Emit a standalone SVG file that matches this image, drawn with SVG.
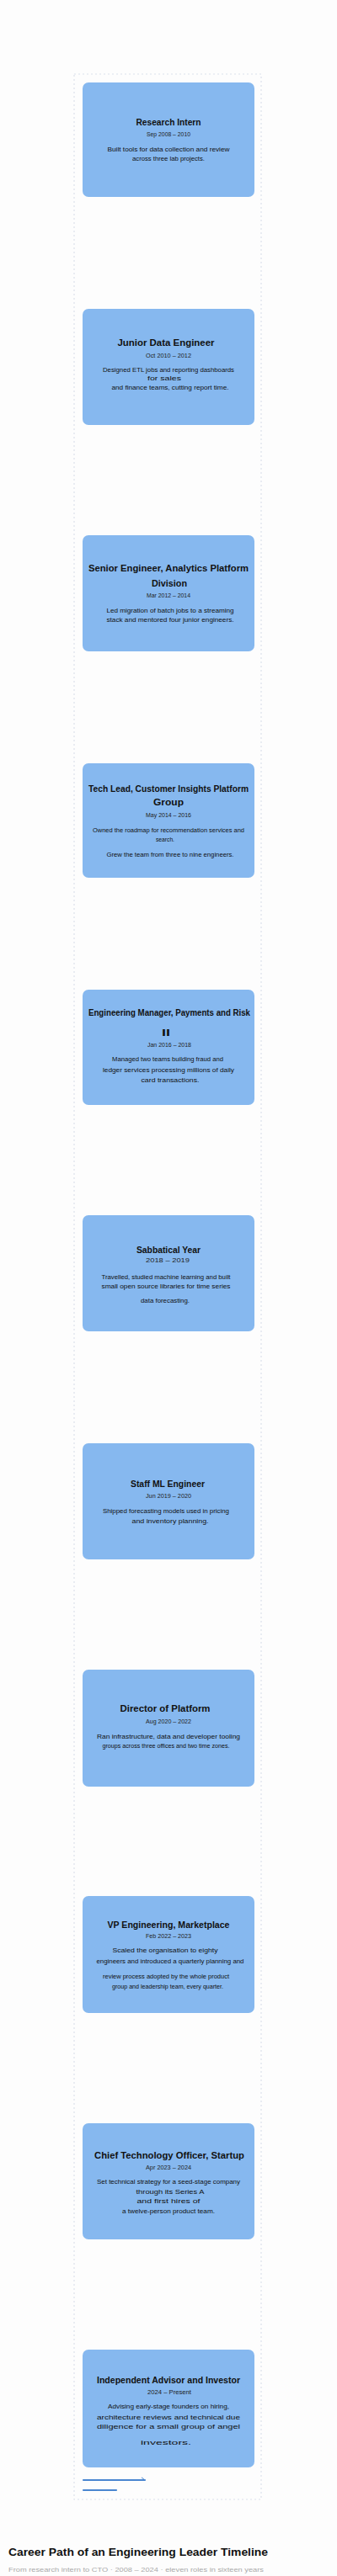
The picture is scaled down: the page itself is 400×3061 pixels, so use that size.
<svg xmlns="http://www.w3.org/2000/svg" width="400" height="3061" viewBox="0 0 400 3061">
<style>
.node{fill:#86b8ef}
.t{font-family:"Liberation Sans",Arial,sans-serif;font-weight:bold;font-size:10px;fill:#111;text-anchor:middle}
.d{font-family:"Liberation Sans",Arial,sans-serif;font-size:7px;fill:#222;text-anchor:middle}
.x{font-family:"Liberation Sans",Arial,sans-serif;font-size:7.5px;fill:#111;text-anchor:middle}
.frame{fill:none;stroke:#dce2ec;stroke-width:1.2;stroke-dasharray:2 3}
.leg{stroke:#4a86d0;stroke-width:2.2;fill:none;stroke-linecap:round}
</style>
<defs>
<marker id="half" viewBox="0 0 10 10" refX="9" refY="9" markerWidth="5" markerHeight="5" orient="auto" markerUnits="userSpaceOnUse">
<path d="M0,2 L9,9" stroke="#4a86d0" stroke-width="2" fill="none"/>
</marker>
</defs>
<rect width="400" height="3061" fill="#fdfdfd"/>
<rect class="frame" x="88" y="88" width="222" height="2882"/>

<g id="node1">
<rect class="node" x="98" y="98" width="204" height="136" rx="7"/>
<text class="t" x="200" y="148.5" textLength="77" lengthAdjust="spacingAndGlyphs">Research Intern</text>
<text class="d" x="200" y="161.5" textLength="52" lengthAdjust="spacingAndGlyphs">Sep 2008 – 2010</text>
<text class="x" x="200" y="179.7" textLength="145" lengthAdjust="spacingAndGlyphs">Built tools for data collection and review</text>
<text class="x" x="200" y="190.7" textLength="86" lengthAdjust="spacingAndGlyphs">across three lab projects.</text>
</g>

<g id="node2">
<rect class="node" x="98" y="367" width="204" height="138" rx="7"/>
<text class="t" x="197" y="410.5" textLength="115" lengthAdjust="spacingAndGlyphs">Junior Data Engineer</text>
<text class="d" x="200" y="424.5" textLength="54" lengthAdjust="spacingAndGlyphs">Oct 2010 – 2012</text>
<text class="x" x="200" y="441.7" textLength="156" lengthAdjust="spacingAndGlyphs">Designed ETL jobs and reporting dashboards</text>
<text class="x" x="195" y="451.7" textLength="40" lengthAdjust="spacingAndGlyphs">for sales</text>
<text class="x" x="202" y="462.7" textLength="139" lengthAdjust="spacingAndGlyphs">and finance teams, cutting report time.</text>
</g>

<g id="node3">
<rect class="node" x="98" y="636" width="204" height="138" rx="7"/>
<text class="t" x="200" y="678.5" textLength="190" lengthAdjust="spacingAndGlyphs">Senior Engineer, Analytics Platform</text>
<text class="t" x="201" y="696.5" textLength="42" lengthAdjust="spacingAndGlyphs">Division</text>
<text class="d" x="200" y="709.5" textLength="52" lengthAdjust="spacingAndGlyphs">Mar 2012 – 2014</text>
<text class="x" x="202" y="727.7" textLength="151" lengthAdjust="spacingAndGlyphs">Led migration of batch jobs to a streaming</text>
<text class="x" x="202" y="738.7" textLength="151" lengthAdjust="spacingAndGlyphs">stack and mentored four junior engineers.</text>
</g>

<g id="node4">
<rect class="node" x="98" y="907" width="204" height="136" rx="7"/>
<text class="t" x="200" y="940.5" textLength="190" lengthAdjust="spacingAndGlyphs">Tech Lead, Customer Insights Platform</text>
<text class="t" x="200" y="956.5" textLength="36" lengthAdjust="spacingAndGlyphs">Group</text>
<text class="d" x="200" y="970.5" textLength="54" lengthAdjust="spacingAndGlyphs">May 2014 – 2016</text>
<text class="x" x="200" y="988.7" textLength="180" lengthAdjust="spacingAndGlyphs">Owned the roadmap for recommendation services and</text>
<text class="x" x="196" y="999.7" textLength="22" lengthAdjust="spacingAndGlyphs">search.</text>
<text class="x" x="202" y="1017.7" textLength="151" lengthAdjust="spacingAndGlyphs">Grew the team from three to nine engineers.</text>
</g>

<g id="node5">
<rect class="node" x="98" y="1176" width="204" height="137" rx="7"/>
<text class="t" x="201" y="1206.5" textLength="192" lengthAdjust="spacingAndGlyphs">Engineering Manager, Payments and Risk</text>
<text class="t" x="197" y="1230.5" textLength="10" lengthAdjust="spacingAndGlyphs">II</text>
<text class="d" x="201" y="1243.5" textLength="52" lengthAdjust="spacingAndGlyphs">Jan 2016 – 2018</text>
<text class="x" x="199" y="1260.7" textLength="132" lengthAdjust="spacingAndGlyphs">Managed two teams building fraud and</text>
<text class="x" x="200" y="1273.7" textLength="156" lengthAdjust="spacingAndGlyphs">ledger services processing millions of daily</text>
<text class="x" x="202" y="1285.7" textLength="69" lengthAdjust="spacingAndGlyphs">card transactions.</text>
</g>

<g id="node6">
<rect class="node" x="98" y="1444" width="204" height="138" rx="7"/>
<text class="t" x="200" y="1488.5" textLength="76" lengthAdjust="spacingAndGlyphs">Sabbatical Year</text>
<text class="d" x="199" y="1499.5" textLength="52" lengthAdjust="spacingAndGlyphs">2018 – 2019</text>
<text class="x" x="197" y="1519.7" textLength="153" lengthAdjust="spacingAndGlyphs">Travelled, studied machine learning and built</text>
<text class="x" x="197" y="1530.7" textLength="153" lengthAdjust="spacingAndGlyphs">small open source libraries for time series</text>
<text class="x" x="196" y="1547.7" textLength="58" lengthAdjust="spacingAndGlyphs">data forecasting.</text>
</g>

<g id="node7">
<rect class="node" x="98" y="1715" width="204" height="138" rx="7"/>
<text class="t" x="199" y="1766.5" textLength="88" lengthAdjust="spacingAndGlyphs">Staff ML Engineer</text>
<text class="d" x="200" y="1779.5" textLength="54" lengthAdjust="spacingAndGlyphs">Jun 2019 – 2020</text>
<text class="x" x="197" y="1797.7" textLength="150" lengthAdjust="spacingAndGlyphs">Shipped forecasting models used in pricing</text>
<text class="x" x="202" y="1809.7" textLength="91" lengthAdjust="spacingAndGlyphs">and inventory planning.</text>
</g>

<g id="node8">
<rect class="node" x="98" y="1984" width="204" height="139" rx="7"/>
<text class="t" x="196" y="2033.5" textLength="107" lengthAdjust="spacingAndGlyphs">Director of Platform</text>
<text class="d" x="200" y="2047.5" textLength="54" lengthAdjust="spacingAndGlyphs">Aug 2020 – 2022</text>
<text class="x" x="200" y="2065.7" textLength="170" lengthAdjust="spacingAndGlyphs">Ran infrastructure, data and developer tooling</text>
<text class="x" x="197" y="2076.7" textLength="151" lengthAdjust="spacingAndGlyphs">groups across three offices and two time zones.</text>
</g>

<g id="node9">
<rect class="node" x="98" y="2253" width="204" height="139" rx="7"/>
<text class="t" x="200" y="2290.5" textLength="145" lengthAdjust="spacingAndGlyphs">VP Engineering, Marketplace</text>
<text class="d" x="200" y="2302.5" textLength="54" lengthAdjust="spacingAndGlyphs">Feb 2022 – 2023</text>
<text class="x" x="196" y="2319.7" textLength="125" lengthAdjust="spacingAndGlyphs">Scaled the organisation to eighty</text>
<text class="x" x="202" y="2332.7" textLength="175" lengthAdjust="spacingAndGlyphs">engineers and introduced a quarterly planning and</text>
<text class="x" x="197" y="2350.7" textLength="150" lengthAdjust="spacingAndGlyphs">review process adopted by the whole product</text>
<text class="x" x="199" y="2362.7" textLength="132" lengthAdjust="spacingAndGlyphs">group and leadership team, every quarter.</text>
</g>

<g id="node10">
<rect class="node" x="98" y="2523" width="204" height="138" rx="7"/>
<text class="t" x="201" y="2564.5" textLength="178" lengthAdjust="spacingAndGlyphs">Chief Technology Officer, Startup</text>
<text class="d" x="200" y="2577.5" textLength="54" lengthAdjust="spacingAndGlyphs">Apr 2023 – 2024</text>
<text class="x" x="200" y="2594.7" textLength="170" lengthAdjust="spacingAndGlyphs">Set technical strategy for a seed-stage company</text>
<text class="x" x="202" y="2606.7" textLength="81" lengthAdjust="spacingAndGlyphs">through its Series A</text>
<text class="x" x="200" y="2617.7" textLength="75" lengthAdjust="spacingAndGlyphs">and first hires of</text>
<text class="x" x="200" y="2629.7" textLength="110" lengthAdjust="spacingAndGlyphs">a twelve-person product team.</text>
</g>

<g id="node11">
<rect class="node" x="98" y="2792" width="204" height="140" rx="7"/>
<text class="t" x="200" y="2831.5" textLength="170" lengthAdjust="spacingAndGlyphs">Independent Advisor and Investor</text>
<text class="d" x="201" y="2844.5" textLength="52" lengthAdjust="spacingAndGlyphs">2024 – Present</text>
<text class="x" x="200" y="2861.7" textLength="144" lengthAdjust="spacingAndGlyphs">Advising early-stage founders on hiring,</text>
<text class="x" x="200" y="2874.7" textLength="170" lengthAdjust="spacingAndGlyphs">architecture reviews and technical due</text>
<text class="x" x="200" y="2885.7" textLength="170" lengthAdjust="spacingAndGlyphs">diligence for a small group of angel</text>
<text class="x" x="197" y="2904.7" textLength="60" lengthAdjust="spacingAndGlyphs">investors.</text>
</g>

<g id="connectors">
<line class="leg" x1="99" y1="2947" x2="172" y2="2947" marker-end="url(#half)"/>
<line class="leg" x1="99" y1="2959" x2="138" y2="2959"/>
</g>

<g id="caption">
<text x="10" y="3036.5" font-family="Liberation Sans, Arial, sans-serif" font-weight="bold" font-size="12" fill="#111" textLength="308" lengthAdjust="spacingAndGlyphs">Career Path of an Engineering Leader   Timeline</text>
<text x="10" y="3055.5" font-family="Liberation Sans, Arial, sans-serif" font-size="7.5" fill="#aaa" textLength="303" lengthAdjust="spacingAndGlyphs">From research intern to CTO · 2008 – 2024 · eleven roles in sixteen years</text>
</g>
</svg>
